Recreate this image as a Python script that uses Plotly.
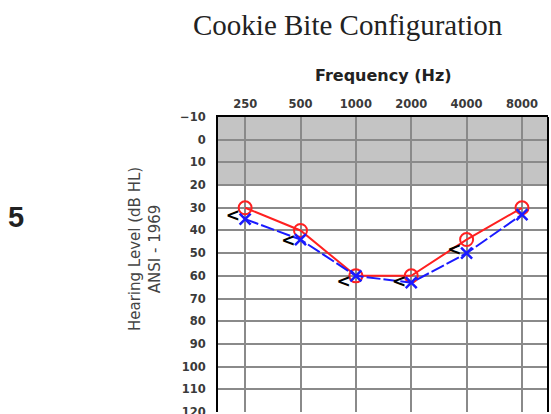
import plotly.graph_objects as go

freq_labels = ["250", "500", "1000", "2000", "4000", "8000"]
right_ear = [30, 40, 60, 60, 44, 30]          # red O (air, right)
left_ear = [35, 44, 60, 63, 50, 33]           # blue X (air, left)
bone_freq_idx = [0, 1, 2, 3, 4]
bone_vals = [34, 45, 63, 63, 49]              # black "<" (bone)
y_ticks = [-10, 0, 10, 20, 30, 40, 50, 60, 70, 80, 90, 100, 110, 120]

x_idx = list(range(len(freq_labels)))
bone_offset = 0.22

W, H = 551, 414
l, r, t, b = 218, 3, 117, 2
pw, ph = W - l - r, H - t - b


def px2paper(px, py):
    return (px - l) / pw, 1 - (py - t) / ph


fig = go.Figure()

fig.add_trace(go.Scatter(
    x=x_idx, y=right_ear, mode="lines+markers",
    line=dict(color="#ff2020", width=2),
    marker=dict(symbol="circle-open", size=13, color="#ff2020", line=dict(width=2)),
    showlegend=False))
fig.add_trace(go.Scatter(
    x=x_idx, y=left_ear, mode="lines+markers",
    line=dict(color="#1a1aff", width=2, dash="14px,3px"),
    marker=dict(symbol="x-thin-open", size=11, color="#1a1aff", line=dict(width=2.5, color="#1a1aff")),
    showlegend=False))
fig.add_trace(go.Scatter(
    x=[i - bone_offset for i in bone_freq_idx], y=bone_vals, mode="text",
    text=["<"] * len(bone_vals),
    textfont=dict(family="DejaVu Sans", size=17, color="black", weight="bold"),
    textposition="middle center",
    showlegend=False))

fig.add_shape(type="rect", xref="paper", yref="y", x0=0, x1=1, y0=-10, y1=20,
              fillcolor="#c4c4c4", line=dict(width=0), layer="below")

tick_font = dict(family="DejaVu Sans", size=11.5, color="#3a3a3a", weight="bold")

fig.update_xaxes(
    range=[-0.49, 5.47], tickmode="array", tickvals=x_idx, ticktext=freq_labels,
    side="top", showgrid=True, gridcolor="#8a8a8a", gridwidth=2,
    zeroline=False, ticks="", showline=True, linecolor="black", linewidth=2, mirror=False,
    tickfont=tick_font, ticklabelstandoff=2, automargin=False)
fig.update_yaxes(
    range=[120, -10], tickmode="array", tickvals=y_ticks,
    showgrid=True, gridcolor="#8a8a8a", gridwidth=2, zeroline=False, ticks="",
    showline=True, linecolor="black", linewidth=2, mirror=False,
    tickfont=tick_font, ticklabelstandoff=8, ticklabeloverflow="allow", automargin=False)

fig.add_shape(type="line", xref="paper", yref="paper", x0=1, x1=1, y0=0, y1=1,
              line=dict(color="black", width=2))

ann_specs = [
    ("Cookie Bite Configuration", 348, 25, dict(family="Liberation Serif", size=29, color="#222222"), 0),
    ("<b>Frequency (Hz)</b>", 383, 75, dict(family="DejaVu Sans", size=16, color="#222222"), 0),
    ("<b>5</b>", 16, 217, dict(family="Liberation Sans", size=29, color="#222222"), 0),
    ("Hearing Level (dB HL)<br>ANSI - 1969", 145, 249, dict(family="DejaVu Sans", size=15, color="#444444"), -90),
]
annotations = []
for text, px, py, font, ang in ann_specs:
    xp, yp = px2paper(px, py)
    annotations.append(dict(text=text, x=xp, y=yp, xref="paper", yref="paper",
                            xanchor="center", yanchor="middle", showarrow=False,
                            font=font, textangle=ang))

fig.update_layout(
    width=W, height=H,
    margin=dict(l=l, r=r, t=t, b=b),
    plot_bgcolor="white", paper_bgcolor="white",
    annotations=annotations,
)

fig.write_html("out.html", config={"displayModeBar": False},
               post_script="document.body.style.margin='0';")
